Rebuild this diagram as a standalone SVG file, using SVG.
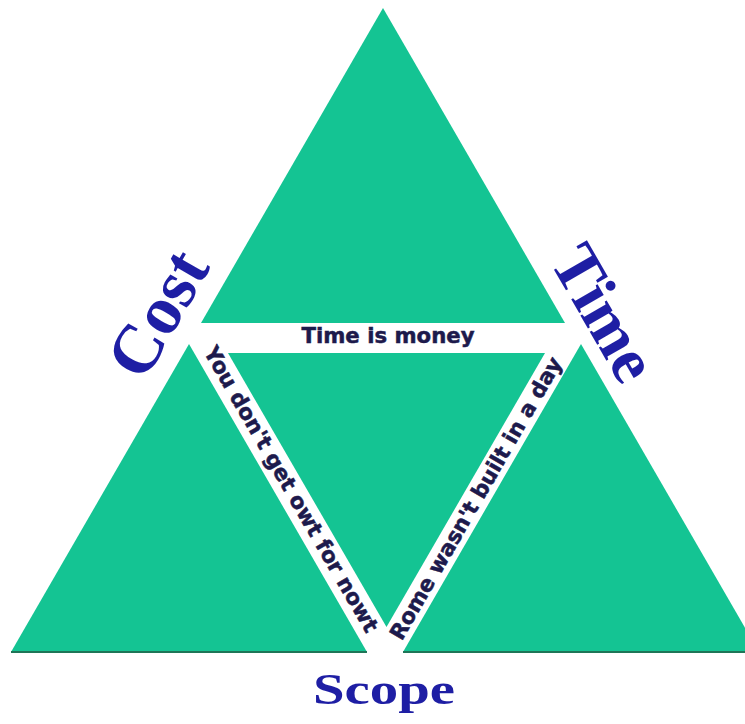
<svg xmlns="http://www.w3.org/2000/svg" width="745" height="724" viewBox="0 0 745 724">
  <defs>
    <style>
      .tri { fill: #14c493; stroke: none; }
      .base { stroke: #1f7557; stroke-width: 2; fill: none; }
      .band { font-family: "DejaVu Sans", Verdana, sans-serif; font-weight: bold; font-size: 21.5px; fill: #1d1a4c; stroke: #1d1a4c; stroke-width: 0.5; text-anchor: middle; }
      .big { font-family: "Liberation Serif", "Times New Roman", serif; font-weight: bold; fill: #1e1ea4; }
    </style>
  </defs>
  <rect width="745" height="724" fill="#ffffff"/>
  <g id="top-triangle"><polygon class="tri" points="383,8 201,323 565,323"/></g>
  <g id="left-triangle"><polygon class="tri" points="11,652 189,344 367,652"/><line class="base" x1="11" y1="652" x2="367" y2="652"/></g>
  <g id="right-triangle"><polygon class="tri" points="403,652 581,344 759,652"/><line class="base" x1="403" y1="652" x2="745" y2="652"/></g>
  <g id="center-triangle"><polygon class="tri" points="228,353 545,353 386.5,627"/></g>
  <g id="connectors"></g>
  <g id="label-time-is-money"><text class="band" x="388" y="343" textLength="173" lengthAdjust="spacingAndGlyphs">Time is money</text></g>
  <g id="label-owt"><text class="band" transform="translate(290,490) rotate(60)" x="0" y="6" textLength="326" lengthAdjust="spacingAndGlyphs">You don't get owt for nowt</text></g>
  <g id="label-rome"><text class="band" transform="translate(477,499) rotate(-60)" x="0" y="6" textLength="322" lengthAdjust="spacingAndGlyphs">Rome wasn't built in a day</text></g>
  <g id="cost"><text class="big" font-size="69" transform="translate(144,383) rotate(-60)" x="0" y="0">Cost</text></g>
  <g id="time"><text class="big" font-size="66" transform="translate(549,261) rotate(60)" x="0" y="0">Time</text></g>
  <g id="scope"><text class="big" font-size="44" x="384" y="704" text-anchor="middle" textLength="142" lengthAdjust="spacingAndGlyphs">Scope</text></g>
</svg>
